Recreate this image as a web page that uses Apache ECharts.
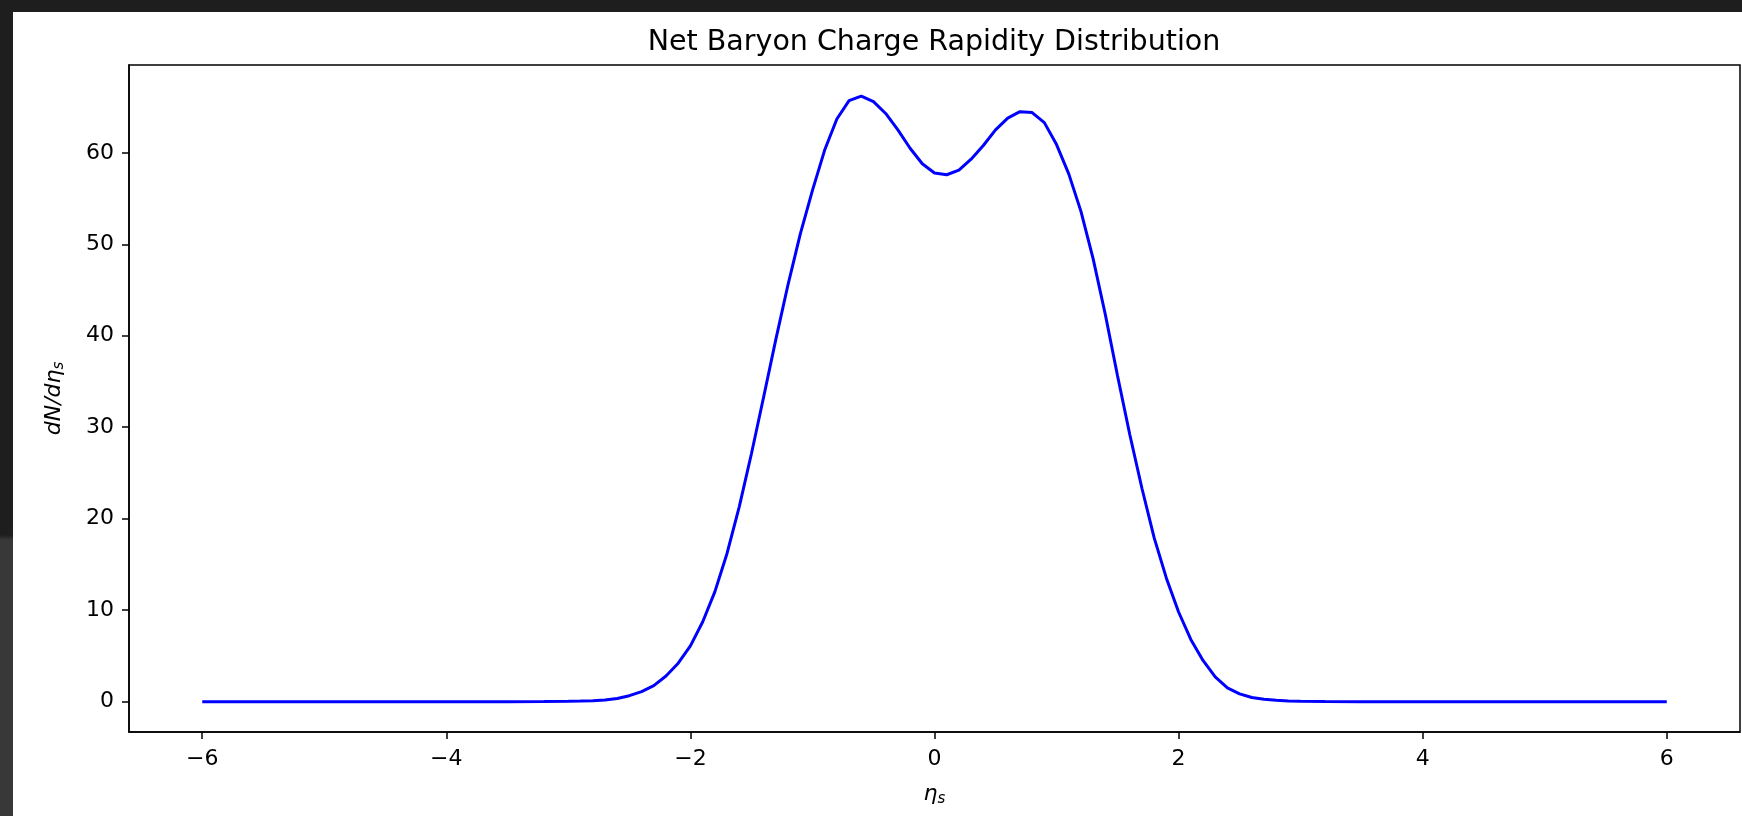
<!DOCTYPE html>
<html>
<head>
	<meta charset="utf-8">
	<title>Net Baryon Charge Rapidity Distribution</title>
	<script src="https://cdn.jsdelivr.net/npm/echarts@6/dist/echarts.min.js"></script>
	<style>
		html, body { margin: 0; padding: 0; width: 1742px; height: 816px; overflow: hidden; }
		body { background: linear-gradient(to bottom, #1e1e1e 0, #1e1e1e 535px, #383838 540px, #383838 100%); }
		#main { position: absolute; left: 13px; top: 12px; width: 1729px; height: 804px; background: #fff; }
	</style>
	<script>
	// eta_s values
	var etaValues = [-6, -5, -4, -3.5, -3.2,
		-3.0, -2.9, -2.8, -2.7, -2.6, -2.5, -2.4, -2.3, -2.2, -2.1,
		-2.0, -1.9, -1.8, -1.7, -1.6, -1.5, -1.4, -1.3, -1.2, -1.1,
		-1.0, -0.9, -0.8, -0.7, -0.6, -0.5, -0.4, -0.3, -0.2, -0.1,
		0.0, 0.1, 0.2, 0.3, 0.4, 0.5, 0.6, 0.7, 0.8, 0.9,
		1.0, 1.1, 1.2, 1.3, 1.4, 1.5, 1.6, 1.7, 1.8, 1.9,
		2.0, 2.1, 2.2, 2.3, 2.4, 2.5, 2.6, 2.7, 2.8, 2.9,
		3.0, 3.2, 3.5, 4, 5, 6];
	// dN/deta_s
	var dNdEta = [0, 0, 0, 0, 0.01,
		0.03, 0.06, 0.1, 0.18, 0.35, 0.65, 1.1, 1.75, 2.8, 4.2,
		6.1, 8.7, 12.0, 16.2, 21.3, 27.1, 33.3, 39.6, 45.6, 51.1,
		55.9, 60.3, 63.7, 65.7, 66.2, 65.6, 64.3, 62.5, 60.5, 58.8,
		57.8, 57.6, 58.1, 59.3, 60.8, 62.5, 63.8, 64.5, 64.4, 63.3,
		60.9, 57.7, 53.6, 48.4, 42.3, 35.6, 29.2, 23.3, 17.9, 13.5,
		9.8, 6.8, 4.5, 2.7, 1.5, 0.85, 0.45, 0.25, 0.15, 0.08,
		0.04, 0.01, 0, 0, 0, 0];
	var xTicks = [-6, -4, -2, 0, 2, 4, 6];
	var yTicks = [0, 10, 20, 30, 40, 50, 60];

	var font = 'DejaVu Sans';

	window.onload = function() {
		var chart = echarts.init(document.getElementById('main'));
		var points = [];
		for (var i = 0; i < etaValues.length; i++) {
			points.push([etaValues[i], dNdEta[i]]);
		}
		var option = {
			animation: false,
			backgroundColor: '#fff',
			title: {
				text: 'Net Baryon Charge Rapidity Distribution',
				left: 916,
				top: 11,
				textAlign: 'center',
				textStyle: { fontFamily: font, fontSize: 28.5, fontWeight: 'normal', color: '#000' }
			},
			grid: {
				left: 116, top: 53, right: 2, bottom: 84,
				outerBoundsMode: 'none',
				show: true, borderColor: '#000', borderWidth: 1.5
			},
			xAxis: {
				type: 'value',
				min: -6.6, max: 6.6,
				name: '{i|η}{s|s}',
				nameLocation: 'middle',
				nameGap: 50,
				nameTextStyle: {
					rich: {
						i: { fontFamily: font, fontSize: 22, fontStyle: 'italic', color: '#000' },
						s: { fontFamily: font, fontSize: 15, fontStyle: 'italic', color: '#000', padding: [10, 0, 0, 0] }
					}
				},
				splitLine: { show: false },
				axisLine: { show: true, onZero: false, lineStyle: { color: '#000', width: 1.5 } },
				axisTick: { show: true, length: 7, lineStyle: { color: '#000', width: 1.5 }, customValues: xTicks },
				axisLabel: {
					customValues: xTicks,
					margin: 16,
					fontFamily: font, fontSize: 22, color: '#000',
					formatter: function(v) { return String(v).replace('-', '\u2212'); }
				}
			},
			yAxis: {
				type: 'value',
				min: -3.32, max: 69.6,
				name: '{i|dN/dη}{s|s}',
				nameLocation: 'middle',
				nameRotate: 90,
				nameGap: 62,
				nameTextStyle: {
					rich: {
						i: { fontFamily: font, fontSize: 22, fontStyle: 'italic', color: '#000' },
						s: { fontFamily: font, fontSize: 15, fontStyle: 'italic', color: '#000', padding: [10, 0, 0, 0] }
					}
				},
				splitLine: { show: false },
				axisLine: { show: true, onZero: false, lineStyle: { color: '#000', width: 1.5 } },
				axisTick: { show: true, length: 7, lineStyle: { color: '#000', width: 1.5 }, customValues: yTicks },
				axisLabel: {
					customValues: yTicks,
					margin: 15,
					fontFamily: font, fontSize: 22, color: '#000'
				}
			},
			series: [{
				type: 'line',
				data: points,
				showSymbol: false,
				lineStyle: { color: '#0000ff', width: 3 },
				itemStyle: { color: '#0000ff' }
			}]
		};
		chart.setOption(option);
	};
	</script>
</head>
<body>
<div id="main"></div>
</body>
</html>
